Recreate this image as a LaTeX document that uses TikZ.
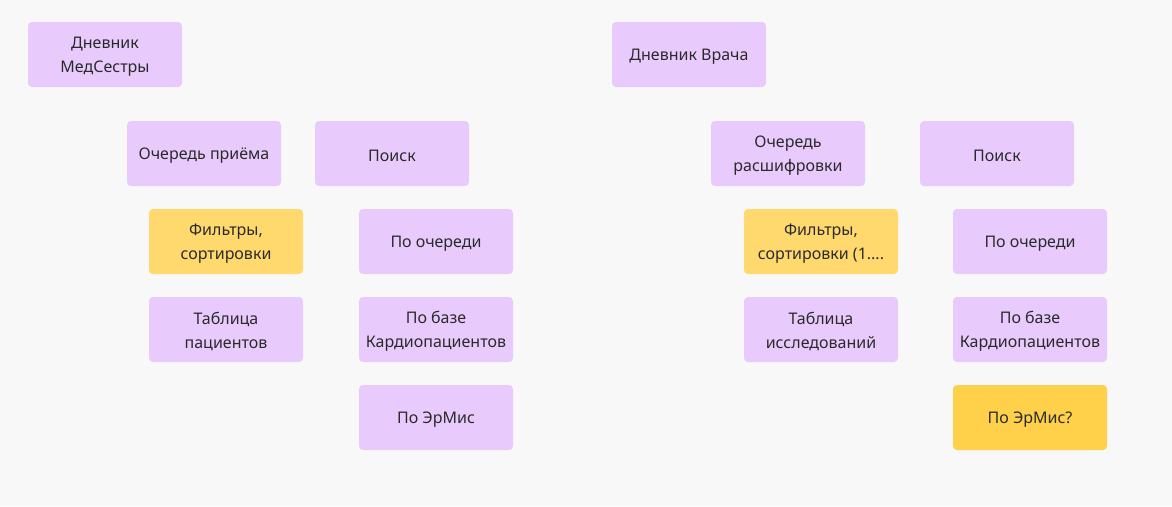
\documentclass[tikz,border=0pt]{standalone}
\usepackage{fontspec}
\setmainfont{Noto Sans}
\definecolor{bg}{HTML}{F8F8F8}
\definecolor{lilac}{HTML}{E8CBFC}
\definecolor{lightyel}{HTML}{FFD96E}
\definecolor{darkyel}{HTML}{FFD04A}
\definecolor{ink}{HTML}{2A2A2A}
\tikzset{
  note/.style={minimum width=154pt, minimum height=65pt, rounded corners=4pt,
    fill=lilac, draw=none, align=center, text=ink, inner sep=2pt,
    font=\fontsize{16}{24}\selectfont,
    execute at begin node={\rule{0pt}{16pt}}},
  two/.style={execute at begin node={\rule{0pt}{40.5pt}}},
  notey/.style={note, fill=lightyel},
  notez/.style={note, fill=darkyel},
}
\begin{document}
\begin{tikzpicture}[x=1pt,y=-1pt]
\fill[bg] (0,0) rectangle (1172,506);
\useasboundingbox (0,0) rectangle (1172,506);
% left
\node[note,two] (dms) at (105,54.5) {Дневник\\МедСестры};
\node[note] (qp) at (204,153.5) {Очередь приёма};
\node[note] (sl) at (392,153.5) {Поиск};
\node[notey,two] (fl) at (226,241.5) {Фильтры,\\сортировки};
\node[note] (pql) at (436,241.5) {По очереди};
\node[note,two] (tp) at (226,329.5) {Таблица\\пациентов};
\node[note,two] (pbl) at (436,329.5) {По базе\\Кардиопациентов};
\node[note] (pel) at (436,417.5) {По ЭрМис};
% right
\node[note] (dv) at (689,54.5) {Дневник Врача};
\node[note,two] (qr) at (788,153.5) {Очередь\\расшифровки};
\node[note] (sr) at (997,153.5) {Поиск};
\node[notey,two] (fr) at (821,241.5) {Фильтры,\\сортировки (1....};
\node[note] (pqr) at (1030,241.5) {По очереди};
\node[note,two] (ti) at (821,329.5) {Таблица\\исследований};
\node[note,two] (pbr) at (1030,329.5) {По базе\\Кардиопациентов};
\node[notez] (per) at (1030,417.5) {По ЭрМис?};
\end{tikzpicture}
\end{document}
